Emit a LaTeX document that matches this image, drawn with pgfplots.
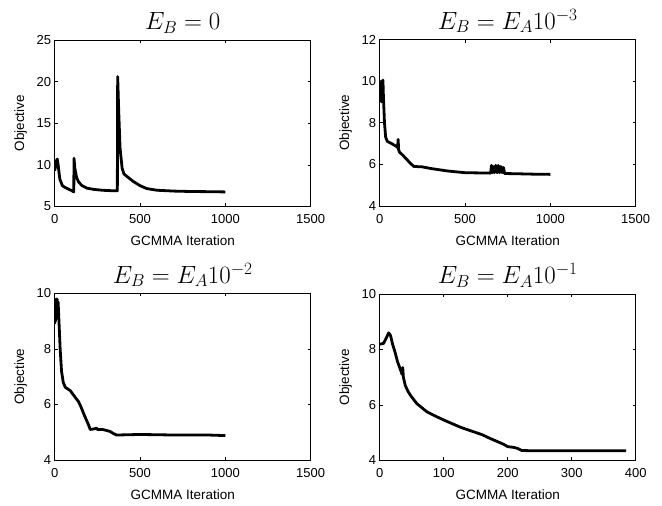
\documentclass[border=0pt]{standalone}
\usepackage{fontspec}
\setmainfont{Liberation Sans}
\usepackage{pgfplots}
\pgfplotsset{compat=1.18}

\pgfplotsset{
  objplot/.style={
    scale only axis, width=256pt, height=166.5pt, anchor=south west,
    axis line style={line width=0.7pt},
    tick align=inside, major tick length=3pt,
    every tick/.style={black, line width=0.6pt},
    /pgf/number format/assume math mode=true,
    /pgf/number format/1000 sep={},
    ticklabel style={font=\fontsize{13}{15}\selectfont},
    xticklabel style={yshift=-4.5pt},
    label style={font=\fontsize{13.5}{15}\selectfont},
    title style={font=\fontsize{23}{25}\selectfont, yshift=-3pt},
    xlabel={GCMMA Iteration}, ylabel={Objective},
    xlabel style={at={(axis description cs:0.5,-0.207)}, anchor=center},
    ylabel style={at={(axis description cs:-0.133,0.5)}, anchor=center},
  },
  objline/.style={black, line width=2.8pt, line join=round, mark=none},
}

\begin{document}
\begin{tikzpicture}
\useasboundingbox (0pt,0pt) rectangle (662pt,506pt);

% E_B = 0
\begin{axis}[objplot, at={(54.7pt,299.5pt)},
  xmin=0, xmax=1500, ymin=5, ymax=25,
  xtick={0,500,1000,1500}, ytick={5,10,15,20,25},
  title={$E_B=0$}]
\addplot[objline] coordinates {
(0,9.3)(5,9.8)(10,10.5)(15,10.7)(20,10.0)(30,8.3)(45,7.5)(60,7.3)(80,7.1)(100,6.9)(112,6.75)
(113,10.8)(118,9.6)(128,8.5)(140,7.95)(160,7.5)(190,7.2)(230,7.05)(280,6.95)(330,6.9)(367,6.88)
(369,20.6)(375,16.5)(383,12.0)(395,9.6)(406,8.9)(430,8.5)(461,8.0)(500,7.5)(540,7.15)(600,6.95)
(700,6.85)(800,6.8)(900,6.78)(1000,6.75)};
\end{axis}

% E_B = E_A 10^-3
\begin{axis}[objplot, at={(379.7pt,300pt)},
  xmin=0, xmax=1500, ymin=4, ymax=12,
  xtick={0,500,1000,1500}, ytick={4,6,8,10,12},
  title={$E_B=E_A10^{-3}$}]
\addplot[objline] coordinates {
(0,9.0)(3,9.8)(5,9.2)(8,10.0)(10,9.0)(13,10.0)(16,9.3)(19,10.05)(22,9.2)(28,8.0)(35,7.3)(45,7.1)
(70,7.0)(100,6.85)(105,6.8)(108,7.2)(111,6.7)(115,6.6)(140,6.4)(180,6.05)(200,5.9)(250,5.88)
(300,5.8)(400,5.68)(500,5.6)(650,5.58)(655,5.95)(660,5.6)(665,5.9)(672,5.6)(680,5.95)(688,5.6)
(695,5.95)(702,5.6)(710,5.9)(718,5.6)(725,5.85)(732,5.56)(800,5.55)(900,5.53)(1000,5.52)};
\end{axis}

% E_B = E_A 10^-2
\begin{axis}[objplot, at={(54.7pt,46pt)},
  xmin=0, xmax=1500, ymin=4, ymax=10,
  xtick={0,500,1000,1500}, ytick={4,6,8,10},
  title={$E_B=E_A10^{-2}$}]
\addplot[objline] coordinates {
(0,8.9)(3,9.7)(5,9.0)(8,9.8)(11,9.1)(14,9.8)(17,9.4)(20,9.7)(25,9.0)(32,8.0)(40,7.2)(50,6.8)
(62,6.62)(91,6.5)(115,6.3)(140,6.1)(155,5.9)(169,5.68)(185,5.45)(198,5.27)(208,5.1)(230,5.12)
(245,5.15)(250,5.1)(280,5.1)(300,5.07)(324,5.03)(345,4.95)(363,4.9)(500,4.92)(700,4.9)
(900,4.9)(1000,4.88)};
\end{axis}

% E_B = E_A 10^-1
\begin{axis}[objplot, at={(379.7pt,45.5pt)},
  xmin=0, xmax=400, ymin=4, ymax=10,
  xtick={0,100,200,300,400}, ytick={4,6,8,10},
  title={$E_B=E_A10^{-1}$}]
\addplot[objline] coordinates {
(0,8.19)(6,8.22)(10,8.4)(14,8.6)(17,8.5)(20,8.2)(24,7.9)(28,7.55)(32,7.3)(35,7.1)(36,7.35)
(37,7.0)(40,6.7)(44,6.5)(48,6.35)(58,6.05)(66,5.9)(74,5.75)(87,5.6)(100,5.46)(113,5.33)
(126,5.2)(146,5.04)(160,4.93)(172,4.8)(186,4.66)(193,4.59)(200,4.5)(210,4.47)(216,4.43)
(222,4.36)(240,4.35)(300,4.35)(385,4.35)};
\end{axis}
\end{tikzpicture}
\end{document}
